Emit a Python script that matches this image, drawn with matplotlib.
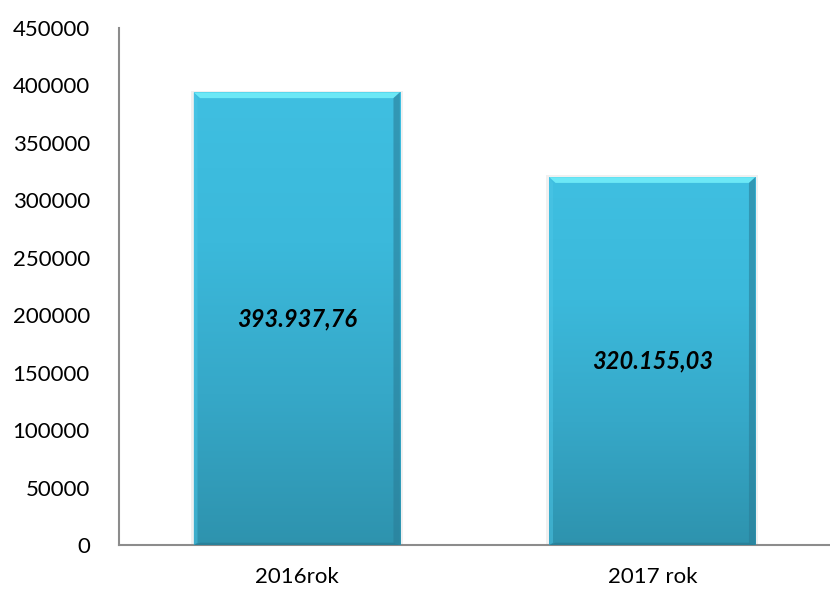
import numpy as np
import matplotlib
matplotlib.use('Agg')
import matplotlib.pyplot as plt
from matplotlib.colors import LinearSegmentedColormap
from matplotlib.patches import Polygon, Rectangle

categories = ['2016rok', '2017 rok']
values = [393937.76, 320155.03]
value_labels = ['393.937,76', '320.155,03']

plt.rcParams['font.family'] = ['Lato', 'DejaVu Sans']

fig = plt.figure(figsize=(8.3, 5.89), dpi=100)
ax = fig.add_axes([0.1434, 0.0747, 0.8566, 0.8778])

x = np.arange(len(categories))
width = 0.58
bars = ax.bar(x, values, width, color='#3BB7DA', zorder=2)

cmap = LinearSegmentedColormap.from_list('bar', ['#2E93AE', '#36A8C8', '#3BB9DB', '#3FBFE1'])
grad = np.linspace(0, 1, 256).reshape(-1, 1)
bx, by = 0.018, 5000
for b in bars:
    x0, w, h = b.get_x(), b.get_width(), b.get_height()
    # soft shadow
    ax.add_patch(Rectangle((x0 - 0.008, 0), w + 0.016, h + 1500, color='#F0F0F0', zorder=1, lw=0))
    im = ax.imshow(grad, extent=(x0, x0 + w, 0, h), origin='lower', aspect='auto',
                   cmap=cmap, zorder=3)
    im.set_clip_path(b)
    # bevel edges
    ax.add_patch(Polygon([(x0, h), (x0 + w, h), (x0 + w - bx, h - by), (x0 + bx, h - by)],
                         color='#6CE8F6', lw=0, zorder=4))
    ax.add_patch(Polygon([(x0 + w, h), (x0 + w, 0), (x0 + w - bx, by * 0.4), (x0 + w - bx, h - by)],
                         color='#2A7E98', alpha=0.6, lw=0, zorder=4))
    ax.add_patch(Polygon([(x0, h), (x0, 0), (x0 + bx * 0.6, by * 0.4), (x0 + bx * 0.6, h - by)],
                         color='#4CC6E6', alpha=0.5, lw=0, zorder=4))
    ax.add_patch(Polygon([(x0, 0), (x0 + w, 0), (x0 + w - bx, by * 0.4), (x0 + bx, by * 0.4)],
                         color='#26758D', alpha=0.6, lw=0, zorder=4))

for b, lab in zip(bars, value_labels):
    ax.text(b.get_x() + b.get_width() / 2, b.get_height() / 2, lab, ha='center', va='center',
            fontsize=17, fontweight='bold', fontstyle='italic', color='black', zorder=5)

ax.set_xlim(-0.5, 1.5)
ax.set_ylim(0, 450000)
ax.set_yticks(np.arange(0, 450001, 50000))
ax.set_xticks(x)
ax.set_xticklabels(categories)
ax.tick_params(axis='both', length=0, labelsize=16)
ax.tick_params(axis='y', pad=21)
ax.tick_params(axis='x', pad=16)
ax.spines['top'].set_visible(False)
ax.spines['right'].set_visible(False)
ax.spines['left'].set_color('#8C8C8C')
ax.spines['bottom'].set_color('#8C8C8C')
ax.spines['left'].set_linewidth(1.5)
ax.spines['bottom'].set_linewidth(1.5)

fig.savefig('out.png', dpi=100)
